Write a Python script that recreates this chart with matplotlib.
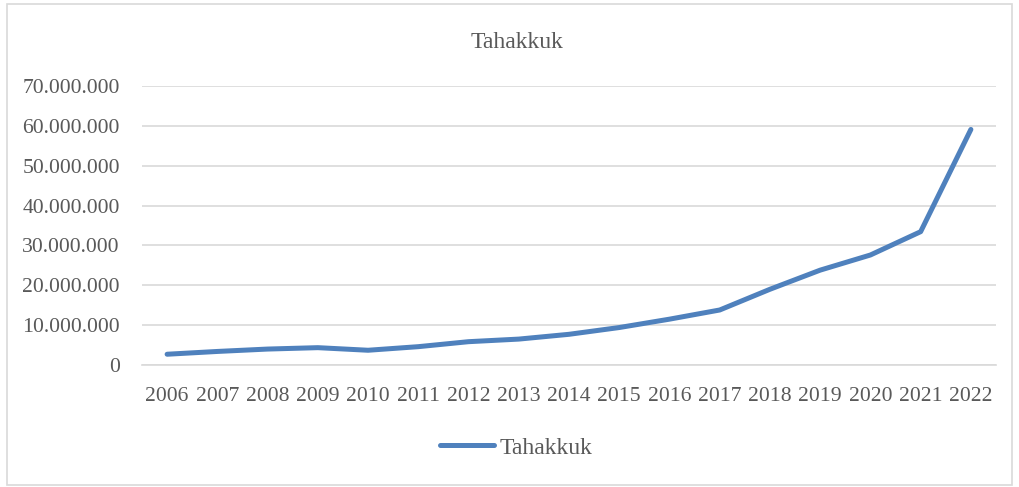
import matplotlib
matplotlib.use("Agg")
import matplotlib.pyplot as plt
from matplotlib.ticker import FuncFormatter, MultipleLocator
from matplotlib.patches import Rectangle

years = ["2006", "2007", "2008", "2009", "2010", "2011", "2012", "2013", "2014",
         "2015", "2016", "2017", "2018", "2019", "2020", "2021", "2022"]
tahakkuk = [2.7e6, 3.4e6, 4.0e6, 4.35e6, 3.7e6, 4.6e6, 5.85e6, 6.5e6, 7.7e6,
            9.4e6, 11.5e6, 13.8e6, 19.0e6, 23.8e6, 27.6e6, 33.45e6, 59.1e6]
series_name = "Tahakkuk"
title = "Tahakkuk"

W, H = 1019, 487
fig = plt.figure(figsize=(W / 100, H / 100), dpi=100)
fig.patch.set_facecolor("white")
plt.rcParams["font.family"] = ["Liberation Serif", "DejaVu Serif"]

fig.patches.append(Rectangle((7 / W, 1 - 485 / H), (1012 - 7) / W, (485 - 4) / H,
                             transform=fig.transFigure, fill=False,
                             edgecolor="#D9D9D9", linewidth=1.2))

left, right, top, bottom = 142, 996, 86, 365
ax = fig.add_axes([left / W, 1 - bottom / H, (right - left) / W, (bottom - top) / H])
x = list(range(len(years)))
ax.plot(x, tahakkuk, color="#4F81BD", linewidth=3.6, solid_capstyle="round",
        solid_joinstyle="round", label=series_name, zorder=3)
ax.set_xlim(-0.5, len(years) - 0.5)
ax.set_ylim(0, 70e6)
ax.yaxis.set_major_locator(MultipleLocator(10e6))
ax.yaxis.set_major_formatter(FuncFormatter(lambda v, p: f"{int(round(v)):,}".replace(",", ".")))
ax.set_xticks(x)
ax.set_xticklabels(years)
ax.grid(axis="y", color="#D9D9D9", linewidth=1.2)
ax.set_axisbelow(True)
for s in ["top", "right", "left"]:
    ax.spines[s].set_visible(False)
ax.spines["bottom"].set_color("#D9D9D9")
ax.spines["bottom"].set_linewidth(1.2)
ax.tick_params(axis="both", length=0, labelsize=15.6, labelcolor="#595959")
ax.tick_params(axis="y", pad=16)
ax.tick_params(axis="x", pad=16)

fig.text(517 / W, 1 - 42 / H, title, ha="center", va="center", fontsize=17, color="#595959")

fig.legend(loc="center", bbox_to_anchor=(516 / W, 1 - 448 / H), frameon=False,
           fontsize=17, labelcolor="#595959", handlelength=2.3, handletextpad=0.2)

fig.savefig("out.png", dpi=100)
